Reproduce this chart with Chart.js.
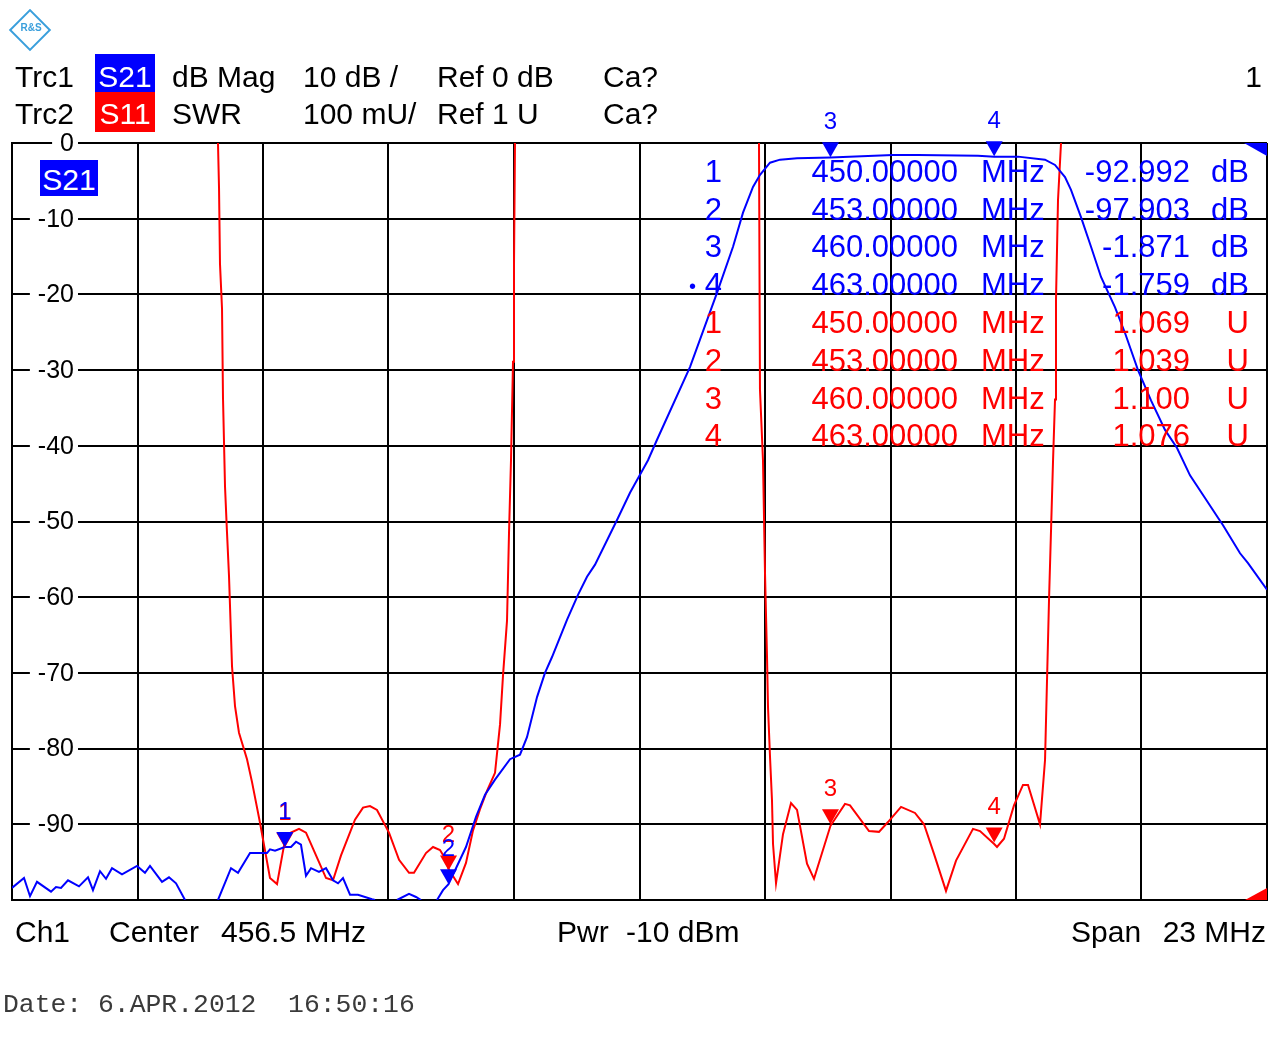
<!DOCTYPE html>
<html>
<head>
<meta charset="utf-8">
<script src="https://cdn.jsdelivr.net/npm/chart.js@4.4.0/dist/chart.umd.min.js"></script>
<style>
body { margin: 0; background: #fff; width: 1278px; height: 1052px; overflow: hidden; position: relative; font-family: "Liberation Sans", Arial, sans-serif; }
#c { position: absolute; left: 0; top: 0; }
.t { position: absolute; white-space: pre; }
.box { position: absolute; }
.logo { position: absolute; left: 15px; top: 15px; width: 26px; height: 26px; border: 2px solid #3a9fdc; transform: rotate(45deg); }
.logotxt { position: absolute; left: 17px; top: 22px; width: 28px; text-align: center; font-size: 10px; color: #3a9fdc; font-weight: bold; }
</style>
</head>
<body>
<canvas id="c" width="1278" height="1052"></canvas>
<div class="logo"></div>
<div class="logotxt">R&amp;S</div>
<script>
// sweep settings
var centerFreq = 456.5;   // MHz
var spanFreq = 23;        // MHz
var refDb = 0;            // Trc1 ref, dB
var dbPerDiv = 10;
var refSwr = 1;           // Trc2 ref, U
var swrPerDiv = 0.1;

// Trc1 S21, dB Mag (null = below the screen)
var s21Freq = [445.000, 445.220, 445.330, 445.458, 445.715, 445.806, 445.898, 446.026, 446.228, 446.393,
	446.484, 446.613, 446.723, 446.833, 447.016, 447.291, 447.437, 447.529, 447.749, 447.877,
	448.006, 448.171, 448.500, 448.775, 449.014, 449.142, 449.362, 449.545, 449.673, 449.728,
	449.820, 450.000, 450.113, 450.205, 450.296, 450.388, 450.480, 450.626, 450.755, 450.883,
	450.975, 451.066, 451.195, 451.341, 451.598, 451.653, 451.850, 452.056, 452.276, 452.404,
	452.496, 452.650, 452.789, 452.899, 453.000, 453.320, 453.504, 453.669, 453.852, 454.127,
	454.310, 454.438, 454.622, 454.768, 454.897, 455.171, 455.373, 455.538, 455.685, 456.088,
	456.326, 456.473, 456.656, 456.821, 457.425, 457.920, 458.214, 458.397, 458.580, 458.709,
	458.892, 459.075, 459.387, 460.000, 461.146, 461.604, 462.704, 463.000, 463.437, 463.932,
	464.115, 464.298, 464.408, 464.591, 464.775, 464.958, 465.215, 465.398, 465.636, 465.874,
	466.131, 466.351, 466.589, 466.864, 467.102, 467.194, 467.506, 467.652, 468.000];
var s21Db = [-98.4, -97.1, -99.5, -97.6, -98.9, -98.3, -98.4, -97.4, -98.2, -97.0,
	-98.7, -96.2, -97.2, -95.8, -96.6, -95.5, -96.4, -95.5, -97.6, -97.0,
	-97.8, -100, null, -100, -95.8, -96.4, -93.8, -93.8, -93.8, -93.3,
	-93.5, -93.0, -93.0, -92.3, -92.7, -96.8, -95.8, -96.3, -95.8, -97.4,
	-97.8, -97.1, -99.3, -99.3, -99.9, -100, null, -100, -99.2, -99.6,
	-100, null, -100, -98.7, -97.9, -93.0, -89.0, -86.1, -84.1, -81.4,
	-80.8, -78.5, -73.2, -70.0, -67.9, -63.0, -59.7, -57.3, -55.7, -49.8,
	-46.2, -44.3, -41.9, -39.2, -29.6, -19.8, -13.7, -9.2, -5.8, -4.2,
	-2.6, -2.2, -2.0, -1.9, -1.6, -1.6, -1.7, -1.8, -1.8, -2.2,
	-2.9, -4.5, -6.2, -9.8, -13.7, -17.7, -21.7, -25.1, -30.0, -34.0,
	-37.9, -40.3, -43.9, -46.9, -49.5, -50.5, -54.2, -55.5, -59.0];

// Trc2 S11, SWR (null = above the screen)
var s11Freq = [445.000, 448.775, 448.794, 448.812, 448.849, 448.867, 448.904, 448.940, 448.977, 449.032,
	449.087, 449.160, 449.307, 449.398, 449.545, 449.728, 449.857, 449.985, 450.113, 450.260,
	450.388, 450.608, 450.755, 450.883, 451.030, 451.286, 451.433, 451.561, 451.689, 451.909,
	452.093, 452.276, 452.367, 452.587, 452.716, 452.844, 452.954, 453.000, 453.174, 453.320,
	453.449, 453.577, 453.705, 453.852, 453.944, 453.999, 454.072, 454.109, 454.145, 454.182,
	454.200, 454.218, 456.500, 458.690, 458.708, 458.763, 458.800, 458.837, 458.855, 458.892,
	458.928, 458.947, 459.002, 459.130, 459.277, 459.387, 459.570, 459.698, 460.000, 460.266,
	460.358, 460.706, 460.889, 461.054, 461.293, 461.549, 461.714, 461.897, 462.117, 462.301,
	462.612, 462.740, 463.000, 463.052, 463.180, 463.363, 463.528, 463.620, 463.840, 463.932,
	464.005, 464.079, 464.115, 464.133, 464.170, 464.225, 468.000];
var s11Swr = [null, 2.0, 1.941, 1.840, 1.781, 1.663, 1.546, 1.486, 1.428, 1.309,
	1.256, 1.221, 1.186, 1.156, 1.102, 1.029, 1.021, 1.072, 1.089, 1.094,
	1.089, 1.053, 1.029, 1.026, 1.059, 1.106, 1.122, 1.124, 1.119, 1.089,
	1.053, 1.036, 1.036, 1.062, 1.070, 1.066, 1.053, 1.041, 1.021, 1.049,
	1.092, 1.120, 1.144, 1.168, 1.232, 1.297, 1.369, 1.486, 1.581, 1.711,
	1.840, 2.0, null, 2.0, 1.674, 1.581, 1.432, 1.321, 1.255, 1.189,
	1.132, 1.074, 1.022, 1.087, 1.128, 1.119, 1.048, 1.028, 1.098, 1.127,
	1.125, 1.091, 1.090, 1.103, 1.123, 1.115, 1.100, 1.061, 1.012, 1.052,
	1.094, 1.091, 1.074, 1.070, 1.081, 1.125, 1.152, 1.152, 1.100, 1.185,
	1.396, 1.581, 1.661, 1.793, 1.925, 2.0, null];

// markers
var markerFreq = [450, 453, 460, 463];
var s21Marker = [-92.992, -97.903, -1.871, -1.759];
var s11Marker = [1.069, 1.039, 1.100, 1.076];

var blue = 'rgb(0, 0, 255)';
var red = 'rgb(255, 0, 0)';

function range(start, stop) {
	var array = [];
	for (let i = start; i < stop; i++) {
		array.push(i);
	}
	return array;
};

function pts(xs, ys) {
	return xs.map((x, i) => ({ x: x, y: ys[i] }));
};

// text on the page, x/base in px (base = baseline)
function put(text, x, base, opts) {
	opts = opts || {};
	var size = opts.size || 30;
	var el = document.createElement('div');
	el.className = 't';
	el.textContent = text;
	el.style.fontSize = size + 'px';
	el.style.lineHeight = size + 'px';
	el.style.color = opts.color || '#000';
	if (opts.mono) {
		el.style.fontFamily = '"Liberation Mono", monospace';
		el.style.top = (base - size * 0.7665) + 'px';
	} else {
		el.style.top = (base - size * 0.8465) + 'px';
	}
	el.style.left = x + 'px';
	if (opts.align == 'right') el.style.transform = 'translateX(-100%)';
	if (opts.align == 'center') el.style.transform = 'translateX(-50%)';
	document.body.appendChild(el);
	return el;
};

function box(x, y, w, h, color) {
	var el = document.createElement('div');
	el.className = 'box';
	el.style.left = x + 'px';
	el.style.top = y + 'px';
	el.style.width = w + 'px';
	el.style.height = h + 'px';
	el.style.background = color;
	document.body.appendChild(el);
};

// header
put('Trc1', 15, 87);
box(95, 54, 60, 38, blue);
put('S21', 125, 87, { color: '#fff', align: 'center' });
put('dB Mag', 172, 87);
put(dbPerDiv + ' dB /', 303, 87);
put('Ref ' + refDb + ' dB', 437, 87);
put('Ca?', 603, 87);
put('1', 1262, 87, { align: 'right' });

put('Trc2', 15, 124);
box(95, 92, 60, 40, red);
put('S11', 125, 124, { color: '#fff', align: 'center' });
put('SWR', 172, 124);
put(Math.round(swrPerDiv * 1000) + ' mU/', 303, 124);
put('Ref ' + refSwr + ' U', 437, 124);
put('Ca?', 603, 124);

// active trace tag inside the diagram
box(40, 160, 58, 36, blue);
put('S21', 69, 190, { color: '#fff', align: 'center' });

// marker readout
var rowBase = 182, rowStep = 37.8;
markerFreq.forEach(function(f, i) {
	var b = rowBase + i * rowStep;
	put(String(i + 1), 722, b, { color: blue, align: 'right', size: 31 });
	put(f.toFixed(5), 958, b, { color: blue, align: 'right', size: 31 });
	put('MHz', 981, b, { color: blue, size: 31 });
	put(s21Marker[i].toFixed(3), 1190, b, { color: blue, align: 'right', size: 31 });
	put('dB', 1249, b, { color: blue, align: 'right', size: 31 });
});
put('\u2022', 689, rowBase + 3 * rowStep - 2, { color: blue, size: 20 });
markerFreq.forEach(function(f, i) {
	var b = rowBase + (i + 4) * rowStep;
	put(String(i + 1), 722, b, { color: red, align: 'right', size: 31 });
	put(f.toFixed(5), 958, b, { color: red, align: 'right', size: 31 });
	put('MHz', 981, b, { color: red, size: 31 });
	put(s11Marker[i].toFixed(3), 1190, b, { color: red, align: 'right', size: 31 });
	put('U', 1249, b, { color: red, align: 'right', size: 31 });
});

// footer
put('Ch1', 15, 942);
put('Center', 109, 942);
put(centerFreq + ' MHz', 221, 942);
put('Pwr', 557, 942);
put('-10 dBm', 626, 942);
put('Span', 1071, 942);
put(spanFreq + ' MHz', 1266, 942, { align: 'right' });
put('Date: 6.APR.2012  16:50:16', 3, 1012, { mono: true, size: 26.4, color: '#3a3a3a' });

var fMin = centerFreq - spanFreq / 2;
var fMax = centerFreq + spanFreq / 2;

// y labels inside the grid, marker flags, ref level triangles
var overlay = {
	id: 'overlay',
	beforeDatasetsDraw: function(chart) {
		var ctx = chart.ctx;
		var y = chart.scales.y;
		ctx.save();
		ctx.font = '25px "Liberation Sans", Arial';
		ctx.textAlign = 'right';
		ctx.textBaseline = 'middle';
		y.ticks.forEach(function(t) {
			if (t.value <= y.min) return;
			var py = y.getPixelForValue(t.value);
			var label = String(t.value);
			var w = ctx.measureText(label).width;
			ctx.fillStyle = '#fff';
			ctx.fillRect(chart.chartArea.left + 62 - w - 8, py - 12, w + 12, 24);
			ctx.fillStyle = '#000';
			ctx.fillText(label, chart.chartArea.left + 62, py + 1);
		});
		ctx.restore();
	},
	afterDatasetsDraw: function(chart) {
		var ctx = chart.ctx;
		var x = chart.scales.x, y = chart.scales.y, y2 = chart.scales.y2;
		var area = chart.chartArea;
		ctx.save();

		function flag(px, py, n, color) {
			ctx.fillStyle = color;
			ctx.beginPath();
			ctx.moveTo(px - 8.5, py - 15);
			ctx.lineTo(px + 8.5, py - 15);
			ctx.lineTo(px, py);
			ctx.closePath();
			ctx.fill();
			ctx.font = '24px "Liberation Sans", Arial';
			ctx.textAlign = 'center';
			ctx.textBaseline = 'alphabetic';
			ctx.fillText(String(n), px, py - 28);
		}
		markerFreq.forEach(function(f, i) {
			flag(x.getPixelForValue(f), y2.getPixelForValue(s11Marker[i]), i + 1, red);
		});
		markerFreq.forEach(function(f, i) {
			flag(x.getPixelForValue(f), y.getPixelForValue(s21Marker[i]), i + 1, blue);
		});

		// ref level of each trace at the right edge
		var ry = y.getPixelForValue(refDb);
		ctx.fillStyle = blue;
		ctx.beginPath();
		ctx.moveTo(area.right - 23, ry);
		ctx.lineTo(area.right, ry);
		ctx.lineTo(area.right, ry + 13);
		ctx.closePath();
		ctx.fill();
		var ry2 = y2.getPixelForValue(refSwr);
		ctx.fillStyle = red;
		ctx.beginPath();
		ctx.moveTo(area.right - 22, ry2);
		ctx.lineTo(area.right, ry2);
		ctx.lineTo(area.right, ry2 - 12);
		ctx.closePath();
		ctx.fill();
		ctx.restore();
	}
};

var gridOpts = { color: '#000', lineWidth: 2, drawTicks: false };
var borderOpts = { color: '#000', width: 2 };

var chart = new Chart(document.getElementById('c'), {
	type: 'line',
	data: {
		datasets: [{
			label: 'S21',
			data: pts(s21Freq, s21Db),
			borderColor: blue,
			borderWidth: 2,
			yAxisID: 'y'
		}, {
			label: 'S11',
			data: pts(s11Freq, s11Swr),
			borderColor: red,
			borderWidth: 2,
			yAxisID: 'y2'
		}]
	},
	options: {
		responsive: false,
		animation: false,
		devicePixelRatio: 1,
		layout: { padding: { left: 12, top: 143, right: 11, bottom: 152 } },
		elements: { point: { radius: 0 }, line: { tension: 0 } },
		spanGaps: false,
		plugins: { legend: { display: false }, tooltip: { enabled: false } },
		scales: {
			x: {
				type: 'linear',
				min: fMin,
				max: fMax,
				ticks: { display: false },
				grid: gridOpts,
				border: borderOpts,
				afterBuildTicks: function(s) {
					s.ticks = range(0, 11).map(i => ({ value: fMin + i * spanFreq / 10 }));
				},
				afterFit: function(s) { s.height = 0; }
			},
			y: {
				min: refDb - 10 * dbPerDiv,
				max: refDb,
				ticks: { display: false, stepSize: dbPerDiv },
				grid: gridOpts,
				border: borderOpts,
				afterFit: function(s) { s.width = 0; }
			},
			y2: {
				display: false,
				min: refSwr,
				max: refSwr + 10 * swrPerDiv
			}
		}
	},
	plugins: [overlay]
});
</script>
</body>
</html>
